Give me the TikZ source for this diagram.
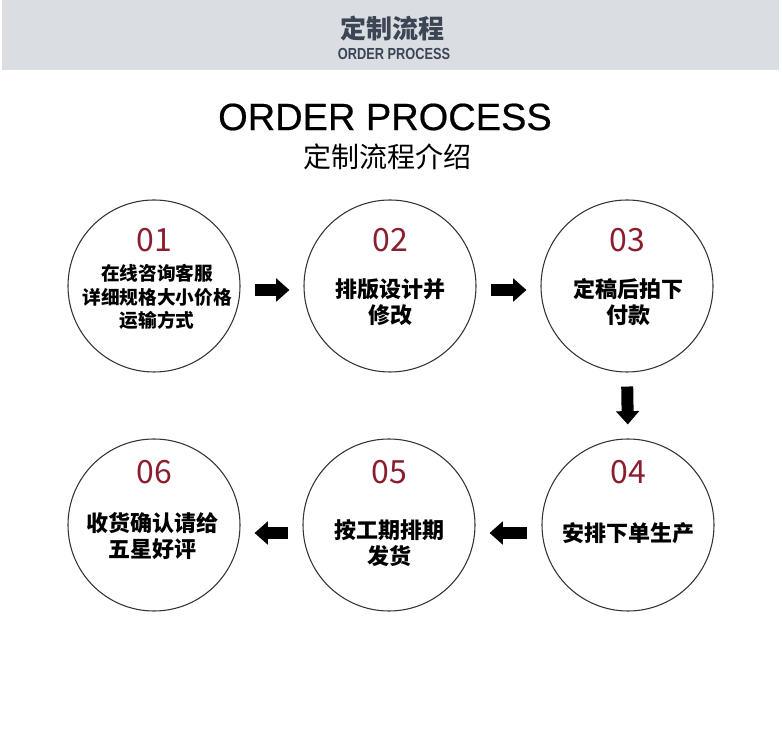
\documentclass[tikz,border=0pt]{standalone}
\usepackage{fontspec}
\setmainfont{Liberation Sans}
\newfontfamily\cjk{Noto Sans CJK SC}
\newfontfamily\narrowfont[FakeStretch=0.8]{Liberation Sans}
\newfontfamily\titlefont[FakeBold=0.5]{Liberation Sans}
\usetikzlibrary{arrows.meta}
\definecolor{bandgray}{HTML}{DADDE2}
\definecolor{slate}{HTML}{3C4554}
\definecolor{numred}{HTML}{8B1E2E}
\tikzset{
  stepcircle/.style={circle, draw=black!80, line width=0.8pt, minimum size=129pt, inner sep=0pt},
  stepnum/.style={font=\cjk\fontsize{24}{24}\selectfont, text=numred, inner sep=0pt},
  steptext/.style={font=\cjk\bfseries\fontsize{16.5}{20}\selectfont, align=center, inner sep=0pt},
  smalltext/.style={font=\cjk\bfseries\fontsize{14}{17.5}\selectfont, align=center, inner sep=0pt},
  flow/.style={line width=9pt, -{Triangle[length=10pt,width=17pt]}, shorten <=10.5pt, shorten >=10.5pt},
}
\begin{document}
\begin{tikzpicture}[x=0.75pt, y=-0.75pt]
  \useasboundingbox (0,0) rectangle (782,730);
  % header band
  \fill[bandgray] (2,0) rectangle (779,70);
  \node[text=slate, font=\cjk\bfseries\fontsize{19.5}{20}\selectfont] (head) at (392,28) {定制流程};
  \node[text=slate, font=\narrowfont\bfseries\fontsize{12}{12}\selectfont] (headsub) at (394,54) {ORDER PROCESS};
  % title
  \node[font=\titlefont\fontsize{28.5}{30}\selectfont] (title) at (385,117) {ORDER PROCESS};
  \node[font=\cjk\fontsize{21}{22}\selectfont] (subtitle) at (387,157) {定制流程介绍};
  % steps
  \node[stepcircle] (c1) at (154,286) {};
  \node[stepcircle] (c2) at (390,286) {};
  \node[stepcircle] (c3) at (627,286) {};
  \node[stepcircle] (c4) at (628,525) {};
  \node[stepcircle] (c5) at (389,525) {};
  \node[stepcircle] (c6) at (154,525) {};
  \node[stepnum] (n1) at (154,240) {01};
  \node[stepnum] (n2) at (390,240) {02};
  \node[stepnum] (n3) at (627,240) {03};
  \node[stepnum] (n4) at (628,472) {04};
  \node[stepnum] (n5) at (389,472) {05};
  \node[stepnum] (n6) at (154,472) {06};
  \node[smalltext] (t1) at (157,297) {在线咨询客服\\详细规格大小价格\\运输方式};
  \node[steptext] (t2) at (390,302) {排版设计并\\修改};
  \node[steptext] (t3) at (628,302) {定稿后拍下\\付款};
  \node[steptext] (t4) at (628,533) {安排下单生产};
  \node[steptext] (t5) at (389,543) {按工期排期\\发货};
  \node[steptext] (t6) at (152,536) {收货确认请给\\五星好评};
  % arrows
  \draw[flow] ([yshift=-3pt]c1.east) -- ([yshift=-3pt]c2.west);
  \draw[flow] ([yshift=-3pt]c2.east) -- ([yshift=-3pt]c3.west);
  \draw[flow] (c3.south) -- (c4.north);
  \draw[flow] ([yshift=-6pt]c4.west) -- ([yshift=-6pt]c5.east);
  \draw[flow] ([yshift=-6pt]c5.west) -- ([yshift=-6pt]c6.east);
\end{tikzpicture}
\end{document}
